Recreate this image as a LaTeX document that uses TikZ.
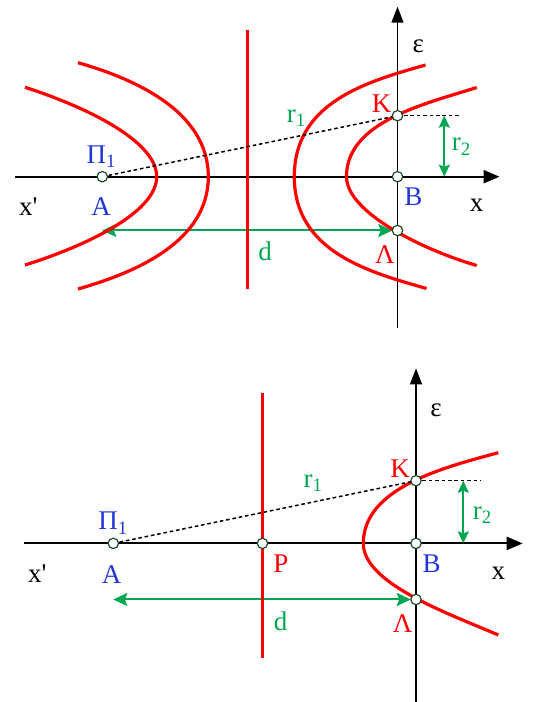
\documentclass[tikz,border=0pt]{standalone}
\usepackage{fontspec}
\setmainfont{Liberation Serif}
\usepackage{tikz}
\usetikzlibrary{arrows.meta}
\definecolor{wavered}{HTML}{FF0000}
\definecolor{distgreen}{HTML}{00A651}
\definecolor{ptblue}{HTML}{2236D8}
\definecolor{holeedge}{HTML}{1E4A28}
\tikzset{
  axisline/.style={draw=black,line width=1.1pt,-{Triangle[length=8pt,width=6.5pt]}},
  epsaxis/.style={draw=black,line width=0.7pt,-{Triangle[length=8pt,width=6pt]}},
  wave/.style={draw=wavered,line width=1.6pt},
  dotline/.style={draw=black,line width=0.75pt,dash pattern=on 1.8pt off 1.4pt},
  dline/.style={draw=distgreen,line width=1pt,
                {Stealth[length=7pt,width=6.5pt,inset=1.2pt]}-{Stealth[length=7pt,width=6.5pt,inset=1.2pt]}},
  rline/.style={draw=distgreen,line width=1pt,
                {Stealth[length=6pt,width=5.5pt,inset=1pt]}-{Stealth[length=6pt,width=5.5pt,inset=1pt]}},
  hole/.style={circle,draw=holeedge,fill=white,line width=0.6pt,
               minimum size=5.2pt,inner sep=0pt},
  lbl/.style={font=\fontsize{13.5}{15}\selectfont,inner sep=0pt},
  bluelbl/.style={lbl,text=ptblue},
  redlbl/.style={lbl,text=wavered},
  greenlbl/.style={lbl,text=distgreen}
}

\begin{document}
\begin{tikzpicture}[x=5pt,y=5pt]
  \path[use as bounding box] (0,0) rectangle (53.2,70.2);

  % two hyperbola families
  \begin{scope}[shift={(39.75,52.53)}]
    \coordinate (At) at (-29.52,0);
    \coordinate (Bt) at (0,0);
    \coordinate (Kt) at (0,6.1);
    \coordinate (Lt) at (0,-5.38);
    \coordinate (Et) at (6.18,6.1);
    \coordinate (Rt) at (4.68,0);
    \draw[axisline] (-38.25,0) -- (10.2,0);
    \draw[epsaxis] (0,-15.16) -- (0,17.0);
    \draw[dline,shorten <=2.6pt] (Lt) -- (At |- Lt);
    \draw[rline] (Kt -| Rt) -- (Rt);
    \draw[wave] (-37.25,8.94) .. controls (-32.01,7.27) and (-24.08,3.8) .. (-24.08,0)
      .. controls (-24.08,-3.8) and (-32.01,-7.2) .. (-37.25,-8.83);
    \draw[wave] (-31.95,11.4) .. controls (-26.18,9.75) and (-18.92,6.5) .. (-18.92,0)
      .. controls (-18.92,-6.5) and (-26.18,-9.58) .. (-31.95,-11.23);
    \draw[wave] (2.8,11.17) .. controls (-2.97,9.52) and (-10.32,7.5) .. (-10.32,0)
      .. controls (-10.32,-7.5) and (-2.87,-9.53) .. (2.9,-11.18);
    \draw[wave] (7.92,8.92) .. controls (2.68,7.25) and (-5.1,5.5) .. (-5.1,0)
      .. controls (-5.1,-3.6) and (2.64,-7.35) .. (7.92,-8.88);
    \draw[wave] (-14.98,14.67) -- (-14.98,-11.26);
    \draw[dotline] (At) -- (Kt);
    \draw[dotline] (Kt) -- (Et);
    \foreach \p in {At,Bt,Kt,Lt}
      \node[hole] at (\p) {};
    \node[lbl] (epst) at (2.08,13.07) {ε};
    \node[redlbl] (Klt) at (-1.58,7.34) {Κ};
    \node[redlbl] (Llt) at (-1.25,-7.83) {Λ};
    \node[bluelbl] (Blt) at (1.58,-2.0) {Β};
    \node[bluelbl] (Alt) at (-29.65,-3.0) {Α};
    \node[bluelbl] (Pit) at (-29.58,2.0) {Π\textsubscript{1}};
    \node[lbl] (xt) at (7.92,-2.83) {x};
    \node[lbl] (xpt) at (-36.92,-3.0) {x\textquotesingle};
    \node[greenlbl] (r1t) at (-10.08,5.84) {r\textsubscript{1}};
    \node[greenlbl] (r2t) at (6.42,3.0) {r\textsubscript{2}};
    \node[greenlbl] (dt) at (-13.25,-7.5) {d};
  \end{scope}

  % one branch only
  \begin{scope}[shift={(41.6,15.86)}]
    \coordinate (Ab) at (-30.27,0);
    \coordinate (Pb) at (-15.35,0);
    \coordinate (Bb) at (0,0);
    \coordinate (Kb) at (0,6.27);
    \coordinate (Lb) at (0,-5.61);
    \coordinate (Eb) at (6.47,6.27);
    \coordinate (Rb) at (4.73,0);
    \draw[axisline] (-39.2,0) -- (10.67,0);
    \draw[epsaxis] (0,-15.9) -- (0,17.5);
    \draw[dline,shorten <=2.6pt] (Lb) -- (Ab |- Lb);
    \draw[rline] (Kb -| Rb) -- (Rb);
    \draw[wave] (8.23,9.07) .. controls (2.92,7.63) and (-5.27,5.6) .. (-5.27,0)
      .. controls (-5.27,-4) and (3.18,-6.99) .. (8.23,-9.16);
    \draw[wave] (-15.35,15.01) -- (-15.35,-11.49);
    \draw[dotline] (Ab) -- (Kb);
    \draw[dotline] (Kb) -- (Eb);
    \foreach \p in {Ab,Pb,Bb,Kb,Lb}
      \node[hole] at (\p) {};
    \node[lbl] (epsb) at (2.0,13.34) {ε};
    \node[redlbl] (Klb) at (-1.6,7.51) {Κ};
    \node[redlbl] (Llb) at (-1.33,-7.99) {Λ};
    \node[redlbl] (Plb) at (-13.5,-1.99) {Ρ};
    \node[bluelbl] (Blb) at (1.57,-2.06) {Β};
    \node[bluelbl] (Alb) at (-30.43,-3.16) {Α};
    \node[bluelbl] (Pib) at (-30.27,2.01) {Π\textsubscript{1}};
    \node[lbl] (xb) at (8.23,-2.99) {x};
    \node[lbl] (xpb) at (-37.87,-2.99) {x\textquotesingle};
    \node[greenlbl] (r1b) at (-10.27,6.01) {r\textsubscript{1}};
    \node[greenlbl] (r2b) at (6.67,2.84) {r\textsubscript{2}};
    \node[greenlbl] (db) at (-13.55,-7.74) {d};
  \end{scope}
\end{tikzpicture}
\end{document}
